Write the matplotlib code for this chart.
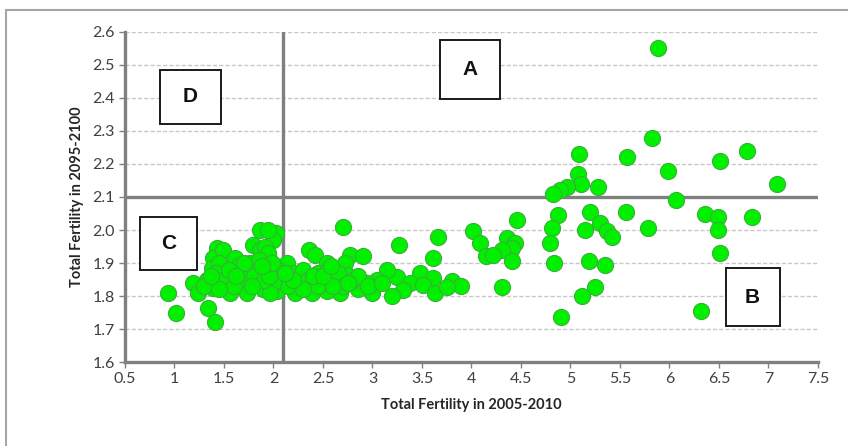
import matplotlib
matplotlib.use("Agg")
import matplotlib.pyplot as plt
from matplotlib.patches import Rectangle

# total fertility 2005-2010 (x) vs 2095-2100 (y)
tf_2005 = [5.88, 5.82, 5.09, 5.57, 6.78, 6.51, 5.99, 5.08, 5.11, 5.28, 7.09, 4.96, 4.89, 4.82,
           6.07, 4.87, 5.20, 5.56, 6.36, 6.49, 6.83, 4.46, 4.81, 5.15, 5.30, 5.37, 5.42, 5.78,
           6.49, 4.36, 4.44, 4.41, 4.31, 4.79, 4.41, 4.83, 5.19, 5.35, 6.51, 4.31, 5.25, 5.12,
           4.90, 6.32,
           4.02, 3.66, 3.27, 4.09, 4.15, 4.22, 3.61, 3.48, 3.61, 3.80, 3.89, 3.25, 3.38, 3.51,
           3.63, 3.75, 3.31, 3.20,
           2.70, 2.36, 2.42, 2.03, 1.99, 2.77, 2.90, 2.14, 2.54, 2.72, 2.74, 3.15, 3.05, 2.94,
           3.00, 2.85, 2.67, 2.54, 2.39, 2.22, 2.04,
           2.10, 2.20, 2.25, 2.30, 2.35, 2.45, 2.50, 2.55, 2.60, 2.65, 2.70, 2.80, 2.85, 2.45,
           2.30, 2.15, 2.60, 2.40, 2.20, 2.05, 2.00, 2.50, 2.75, 2.95, 3.10, 2.12, 2.58,
           0.93, 1.02, 1.34, 1.41, 1.86, 1.94, 1.43, 1.39, 1.38, 1.49, 1.79, 1.86, 1.91, 1.94,
           1.61, 1.76, 1.19, 1.24, 1.39, 1.56, 1.33, 1.46, 1.59, 1.69, 1.83, 1.69, 1.83, 1.53,
           1.93, 1.73, 1.89, 1.96,
           1.45, 1.42, 1.50, 1.65, 1.75, 1.80, 1.90, 1.95, 1.85, 1.70, 1.60, 1.30, 1.45, 1.78,
           1.98, 1.88, 1.55, 1.37, 1.62]
tf_2095 = [2.55, 2.28, 2.23, 2.22, 2.24, 2.21, 2.18, 2.17, 2.14, 2.13, 2.14, 2.13, 2.12, 2.11,
           2.09, 2.045, 2.055, 2.055, 2.05, 2.04, 2.04, 2.03, 2.005, 2.00, 2.02, 1.997, 1.98, 2.005,
           2.00, 1.975, 1.96, 1.945, 1.94, 1.96, 1.905, 1.90, 1.905, 1.895, 1.93, 1.827, 1.827, 1.80,
           1.736, 1.755,
           1.997, 1.98, 1.955, 1.96, 1.92, 1.925, 1.915, 1.87, 1.855, 1.845, 1.83, 1.857, 1.84, 1.833,
           1.81, 1.827, 1.818, 1.80,
           2.01, 1.94, 1.925, 1.99, 1.97, 1.925, 1.92, 1.90, 1.90, 1.90, 1.865, 1.88, 1.85, 1.84,
           1.81, 1.82, 1.81, 1.815, 1.81, 1.81, 1.815,
           1.86, 1.87, 1.84, 1.88, 1.85, 1.87, 1.84, 1.88, 1.85, 1.87, 1.83, 1.85, 1.86, 1.83,
           1.82, 1.83, 1.83, 1.86, 1.85, 1.88, 1.84, 1.86, 1.84, 1.83, 1.84, 1.87, 1.89,
           1.81, 1.75, 1.765, 1.72, 2.00, 2.00, 1.945, 1.915, 1.885, 1.94, 1.955, 1.94, 1.95, 1.93,
           1.915, 1.90, 1.84, 1.81, 1.825, 1.81, 1.85, 1.84, 1.855, 1.84, 1.84, 1.87, 1.87, 1.87,
           1.88, 1.81, 1.82, 1.81,
           1.90, 1.87, 1.85, 1.89, 1.88, 1.86, 1.85, 1.86, 1.91, 1.90, 1.83, 1.83, 1.82, 1.83,
           1.90, 1.89, 1.88, 1.86, 1.86]

replacement = 2.1
quadrants = ["A", "B", "C", "D"]
x_ticks = [0.5, 1, 1.5, 2, 2.5, 3, 3.5, 4, 4.5, 5, 5.5, 6, 6.5, 7, 7.5]
y_ticks = [1.6, 1.7, 1.8, 1.9, 2.0, 2.1, 2.2, 2.3, 2.4, 2.5, 2.6]

plt.rcParams["font.family"] = ["Lato", "DejaVu Sans"]

fig = plt.figure(figsize=(8.48, 4.46), dpi=100)
ax = fig.add_axes([0.1474, 0.1883, 0.8172, 0.74])

# outer frame
fig.add_artist(Rectangle((6 / 848, -0.05), 1.0, (436 / 446) + 0.05,
                         transform=fig.transFigure, fill=False,
                         edgecolor="#a6a6a6", linewidth=1.5))

ax.set_xlim(0.5, 7.5)
ax.set_ylim(1.6, 2.6)
ax.set_xticks(x_ticks)
ax.set_xticklabels([f"{v:g}" for v in x_ticks])
ax.set_yticks(y_ticks)
ax.set_yticklabels([f"{v:.1f}" for v in y_ticks])

for v in y_ticks[1:]:
    ax.axhline(v, color="#c8c8c8", linestyle=(0, (3, 1.5)), linewidth=1.0, zorder=0)

ax.axvline(replacement, color="#808080", linewidth=2.4, zorder=1)
ax.axhline(replacement, color="#808080", linewidth=2.4, zorder=1)

ax.scatter(tf_2005, tf_2095, s=135, color="#00f000", edgecolors="#3aae3a",
           linewidths=0.8, zorder=3)

for s in ["top", "right"]:
    ax.spines[s].set_visible(False)
for s in ["left", "bottom"]:
    ax.spines[s].set_color("#808080")
    ax.spines[s].set_linewidth(2.4)
ax.tick_params(colors="#808080", length=4, width=1, labelsize=11.5, labelcolor="#404040")

ax.set_xlabel("Total Fertility in 2005-2010", fontsize=10.5, fontweight="bold",
              color="#262626", labelpad=8)
ax.set_ylabel("Total Fertility in 2095-2100", fontsize=10.5, fontweight="bold",
              color="#262626", labelpad=6)

# letter boxes: (center x, center y, width, height) in data units
boxes = [(3.985, 2.485, 0.606, 0.179),
         (6.84, 1.797, 0.545, 0.173),
         (0.944, 1.96, 0.576, 0.161),
         (1.157, 2.403, 0.616, 0.161)]
for lab, (cx, cy, w, h) in zip(quadrants, boxes):
    ax.add_patch(Rectangle((cx - w / 2, cy - h / 2), w, h, facecolor="white",
                           edgecolor="#1a1a1a", linewidth=1.4, zorder=4))
    ax.text(cx, cy, lab, ha="center", va="center", fontsize=15, fontweight="bold",
            family=["Liberation Sans", "DejaVu Sans"], color="#111111", zorder=5)

fig.savefig("out.png", dpi=100)
